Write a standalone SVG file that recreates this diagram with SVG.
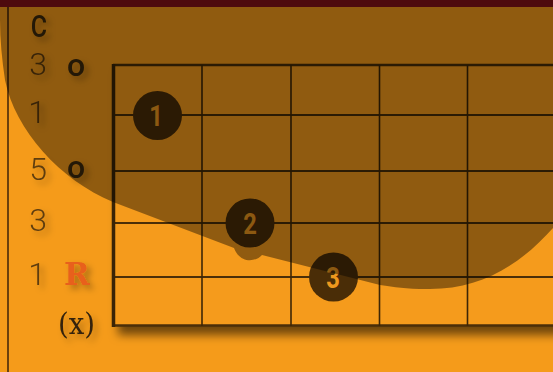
<svg xmlns="http://www.w3.org/2000/svg" width="553" height="372" viewBox="0 0 553 372">
  <defs>
    <filter id="boardShadow" x="-20%" y="-20%" width="140%" height="140%">
      <feDropShadow dx="5" dy="9" stdDeviation="5" flood-color="#000" flood-opacity="0.55"/>
    </filter>
    <filter id="txtShadow" x="-50%" y="-50%" width="200%" height="200%">
      <feDropShadow dx="4" dy="4" stdDeviation="3" flood-color="#000" flood-opacity="0.3"/>
    </filter>
    <style>
      .grid { stroke: #4a2e08; stroke-width: 2; fill: none; }
      .vline { stroke: #3e2606; stroke-width: 1.6; }
      .num { font-family: Roboto, "Liberation Sans", sans-serif; font-weight: 300; font-size: 32px; fill: #5e3d10; text-anchor: middle; }
      .open { font-family: Roboto, "Liberation Sans", sans-serif; font-weight: 500; font-size: 32px; fill: #3e2a0b; text-anchor: middle; }
      .dot { fill: #4a2d07; }
      .dtxt { font-family: Roboto, "Liberation Sans", sans-serif; font-weight: 700; font-size: 29px; fill: #EE981E; text-anchor: middle; }
    </style>
  </defs>

  <rect x="0" y="0" width="553" height="372" fill="#F59B1A"/>
  <line x1="8" y1="0" x2="8" y2="372" stroke="#3c2208" stroke-width="1.5"/>

  <g id="board">
    <rect x="113" y="65" width="480" height="261" fill="#F59B1A" filter="url(#boardShadow)"/>
  </g>

  <g id="connectors">
    <line class="grid" x1="113" y1="65" x2="553" y2="65" style="stroke-width:2.5"/>
    <line class="grid" x1="113" y1="115" x2="553" y2="115"/>
    <line class="grid" x1="113" y1="171" x2="553" y2="171"/>
    <line class="grid" x1="113" y1="223" x2="553" y2="223"/>
    <line class="grid" x1="113" y1="277" x2="553" y2="277"/>
    <line class="grid" x1="113" y1="325.5" x2="553" y2="325.5" style="stroke-width:2.5"/>
    <line class="vline" x1="202" y1="65" x2="202" y2="326"/>
    <line class="vline" x1="291" y1="65" x2="291" y2="326"/>
    <line class="vline" x1="379.5" y1="65" x2="379.5" y2="326"/>
    <line class="vline" x1="467.5" y1="65" x2="467.5" y2="326"/>
    <line x1="113.5" y1="64" x2="113.5" y2="327" stroke="#3a2406" stroke-width="3.5"/>
  </g>

  <g id="dot1">
    <circle class="dot" cx="157.5" cy="115.5" r="24.5"/>
    <text class="dtxt" x="156" y="126" transform="translate(156 0) scale(0.82 1) translate(-156 0)">1</text>
  </g>
  <g id="dot2">
    <circle class="dot" cx="250" cy="223" r="24.5"/>
    <text class="dtxt" x="250" y="234" transform="translate(250 0) scale(0.82 1) translate(-250 0)">2</text>
  </g>
  <g id="dot3">
    <circle class="dot" cx="333.5" cy="277" r="24.5"/>
    <text class="dtxt" x="333" y="288" transform="translate(333 0) scale(0.82 1) translate(-333 0)">3</text>
  </g>

  <g id="chord-name" filter="url(#txtShadow)">
    <text x="39" y="37" transform="translate(39 0) scale(0.78 1) translate(-39 0)" style="font-family: Roboto, 'Liberation Sans', sans-serif; font-weight:500; font-size:32px; fill:#3e2a0b; text-anchor:middle;">C</text>
  </g>

  <g id="fingers" filter="url(#txtShadow)">
    <text class="num" x="38" y="75">3</text>
    <text class="num" x="37" y="123">1</text>
    <text class="num" x="38" y="180">5</text>
    <text class="num" x="38" y="231">3</text>
    <text class="num" x="37" y="285">1</text>
  </g>

  <g id="string-marks" filter="url(#txtShadow)">
    <text class="open" x="76" y="76">o</text>
    <text class="open" x="76" y="178">o</text>
    <text x="77" y="285" style="font-family: 'DejaVu Serif', 'Liberation Serif', serif; font-weight:700; font-size:31px; fill:#E8611A; text-anchor:middle;">R</text>
    <text x="76.5" y="334" style="font-family: 'DejaVu Serif', 'Liberation Serif', serif; font-size:30px; fill:#35240a; text-anchor:middle;" transform="translate(76.5 0) scale(0.92 1) translate(-76.5 0)">(x)</text>
  </g>

  <path id="overlay" d="M0,0 H553 V228 C520,265 480,290 427,289 C405,289 395,287 380,285 L262,255 C256,262 240,264 234,248 L113,202 C60,180 15,130 5,80 C2,60 0,40 0,20 Z" fill="#000" fill-opacity="0.41"/>

  <rect x="0" y="0" width="553" height="7" fill="#4E0B0E"/>
</svg>
